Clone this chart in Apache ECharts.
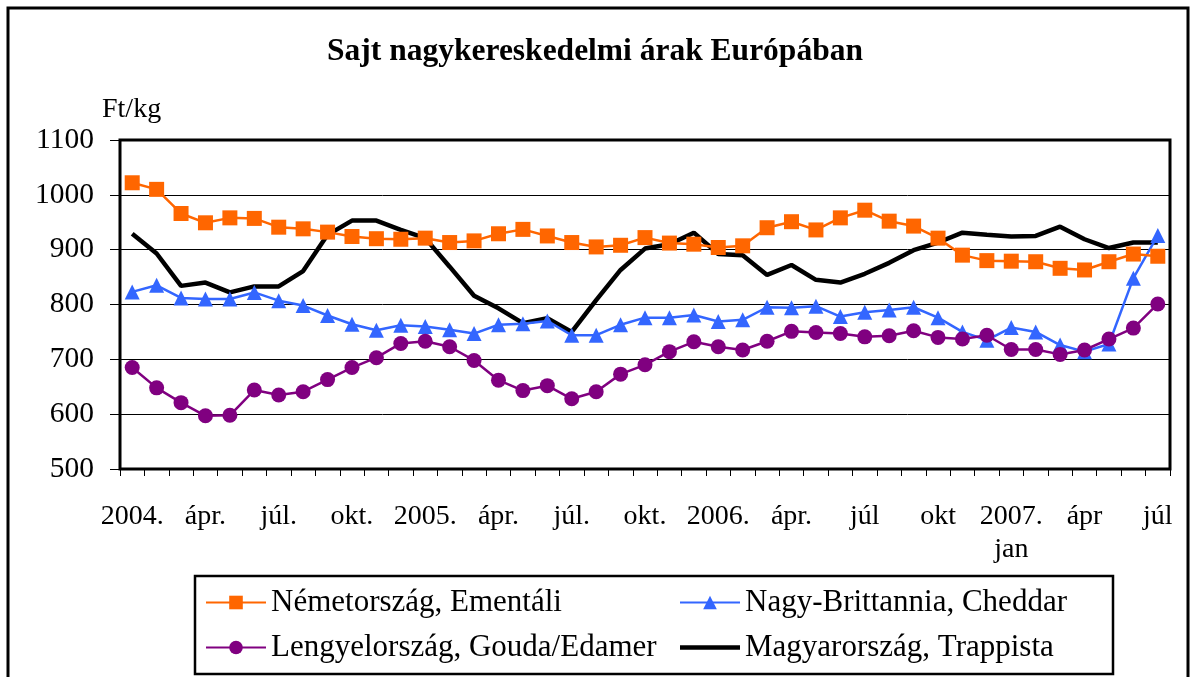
<!DOCTYPE html>
<html>
<head>
<meta charset="utf-8">
<script src="https://cdn.jsdelivr.net/npm/echarts@6/dist/echarts.min.js"></script>
<style>
  html, body { margin: 0; padding: 0; background: #fff; }
  #chart { width: 1190px; height: 677px; }
</style>
</head>
<body>
<div id="chart"></div>
<script>
// tengely feliratok (havi adatok 2004 jan - 2007 júl)
const honapok = [
  '2004.', 'febr.', 'márc.', 'ápr.', 'máj.', 'jún.', 'júl.', 'aug.', 'szept.', 'okt.', 'nov.', 'dec.',
  '2005.', 'febr.', 'márc.', 'ápr.', 'máj.', 'jún.', 'júl.', 'aug.', 'szept.', 'okt.', 'nov.', 'dec.',
  '2006.', 'febr.', 'márc.', 'ápr.', 'máj.', 'jún.', 'júl', 'aug.', 'szept.', 'okt', 'nov.', 'dec.',
  '2007.\njan', 'febr.', 'márc.', 'ápr', 'máj.', 'jún.', 'júl'
]

// Ft/kg értékek
const nemet = [1022, 1010, 966, 949, 958, 957, 941, 938, 932, 924, 920, 919,
  921, 913, 916, 929, 937, 925, 913, 905, 908, 922, 912, 910,
  904, 907, 940, 951, 936, 958, 972, 952, 943, 921, 890, 880,
  879, 878, 866, 863, 878, 892, 888]
const angol = [823, 835, 812, 810, 810, 822, 807, 798, 780, 764, 753, 762,
  760, 754, 747, 763, 765, 770, 744, 744, 763, 776, 776, 781,
  769, 772, 795, 794, 797, 778, 786, 790, 795, 776, 750, 735,
  758, 750, 726, 714, 728, 848, 926]
const lengyel = [685, 648, 621, 597, 598, 644, 635, 641, 663, 685, 703, 729,
  733, 723, 698, 662, 643, 652, 628, 641, 673, 690, 714, 732,
  723, 717, 733, 751, 749, 747, 741, 743, 752, 740, 737, 744,
  718, 718, 709, 717, 737, 757, 801]
const magyar = [929, 893, 834, 840, 822, 833, 833, 861, 927, 953, 953, 936,
  921, 869, 816, 793, 766, 775, 750, 808, 863, 902, 910, 931,
  892, 890, 854, 872, 845, 840, 856, 876, 899, 913, 931, 927,
  924, 925, 942, 919, 903, 913, 913]

const betu = 'Liberation Serif'

const chart = echarts.init(document.getElementById('chart'))

// közös jelmagyarázat beállítások
const legendAlap = {
  orient: 'vertical',
  top: 587,
  padding: 0,
  itemWidth: 60,
  itemHeight: 17,
  itemGap: 14,
  textStyle: { fontFamily: betu, fontSize: 31, color: '#000' }
}

const options = {
  animation: false,
  backgroundColor: '#fff',
  textStyle: { fontFamily: betu, color: '#000' },
  title: [
    {
      text: 'Sajt nagykereskedelmi árak Európában',
      left: 'center',
      top: 31,
      textStyle: { fontFamily: betu, fontSize: 31.5, fontWeight: 'bold', color: '#000' }
    },
    {
      text: 'Ft/kg',
      left: 97,
      top: 91,
      textStyle: { fontFamily: betu, fontSize: 28, fontWeight: 'normal', color: '#000' }
    }
  ],
  graphic: [
    // külső keret
    { type: 'rect', shape: { x: 8, y: 8, width: 1180, height: 720 }, style: { fill: 'none', stroke: '#000', lineWidth: 3 }, z: -1 },
    // jelmagyarázat kerete
    { type: 'rect', shape: { x: 195, y: 576, width: 918, height: 98 }, style: { fill: 'none', stroke: '#000', lineWidth: 2.5 }, z: -1 }
  ],
  legend: [
    Object.assign({}, legendAlap, {
      left: 205,
      data: ['Németország, Ementáli', 'Lengyelország, Gouda/Edamer']
    }),
    Object.assign({}, legendAlap, {
      left: 679,
      data: [
        'Nagy-Brittannia, Cheddar',
        { name: 'Magyarország, Trappista', icon: 'path://M0,0 L60,0 L60,4.5 L0,4.5 Z' }
      ]
    })
  ],
  grid: {
    left: 120,
    right: 20,
    top: 140,
    bottom: 208,
    show: true,
    borderColor: '#000',
    borderWidth: 3
  },
  xAxis: {
    type: 'category',
    data: honapok,
    boundaryGap: true,
    axisLine: { show: false },
    axisTick: { show: true, interval: 0, length: 7, lineStyle: { color: '#000', width: 1 } },
    axisLabel: {
      interval: 2,
      margin: 31,
      fontFamily: betu,
      fontSize: 28,
      lineHeight: 33,
      color: '#000'
    }
  },
  yAxis: {
    type: 'value',
    min: 500,
    max: 1100,
    interval: 100,
    axisLine: { show: false },
    axisTick: { show: true, length: 10, lineStyle: { color: '#000', width: 1 } },
    axisLabel: {
      margin: 26,
      fontFamily: betu,
      fontSize: 29.5,
      color: '#000',
      formatter: (v) => String(v)
    },
    splitLine: { lineStyle: { color: '#000', width: 1 } }
  },
  series: [
    {
      name: 'Magyarország, Trappista',
      type: 'line',
      data: magyar,
      symbol: 'none',
      lineStyle: { color: '#000', width: 4.5 },
      itemStyle: { color: '#000' }
    },
    {
      name: 'Nagy-Brittannia, Cheddar',
      type: 'line',
      data: angol,
      symbol: 'triangle',
      symbolSize: 15,
      lineStyle: { color: '#3366FF', width: 2.5 },
      itemStyle: { color: '#3366FF' }
    },
    {
      name: 'Lengyelország, Gouda/Edamer',
      type: 'line',
      data: lengyel,
      symbol: 'circle',
      symbolSize: 15,
      lineStyle: { color: '#800080', width: 2.5 },
      itemStyle: { color: '#800080' }
    },
    {
      name: 'Németország, Ementáli',
      type: 'line',
      data: nemet,
      symbol: 'rect',
      symbolSize: 15,
      lineStyle: { color: '#FF6600', width: 2.5 },
      itemStyle: { color: '#FF6600' }
    }
  ]
}

chart.setOption(options)
</script>
</body>
</html>
